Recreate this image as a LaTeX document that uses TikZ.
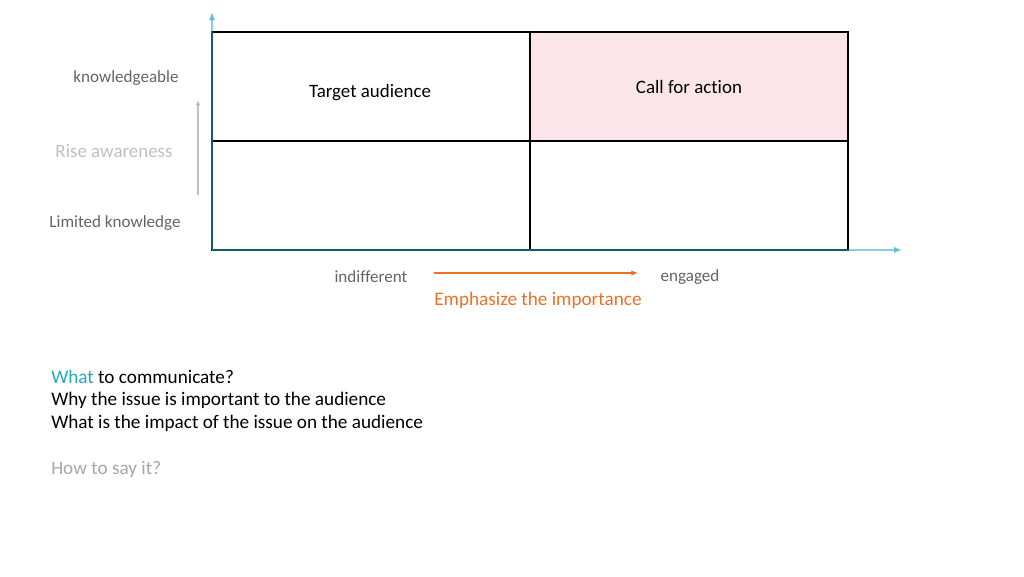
\documentclass[tikz,border=0pt]{standalone}
\usepackage{fontspec}
\setmainfont{Carlito}[Ligatures=NoCommon]
\usetikzlibrary{arrows.meta,positioning,calc}
\definecolor{AX-TEAL}{RGB}{36,168,196}
\definecolor{EMPH-ORANGE}{RGB}{237,112,36}
\definecolor{CELL-PINK}{RGB}{251,229,235}
\definecolor{TXT-GRAY}{RGB}{100,100,100}
\definecolor{TXT-LIGHT}{RGB}{191,191,191}
\definecolor{TXT-MID}{RGB}{166,166,166}

\begin{document}
\begin{tikzpicture}[x=0.75pt,y=-0.75pt,
  cell/.style={draw=black, line width=1.1pt, minimum width=238.5pt, minimum height=81.75pt,
    inner sep=0pt, outer sep=0pt, anchor=north west},
  axislabel/.style={font=\fontsize{12.8}{15}\selectfont, text=TXT-GRAY},
  celltext/.style={font=\fontsize{14.2}{17}\selectfont, text=black},
  bodytext/.style={font=\fontsize{14.4}{17}\selectfont, anchor=west, inner sep=0pt}]
  \useasboundingbox (0,0) rectangle (1024,576);

  % The four quadrants
  \node[cell] (tl) at (212,32) {};
  \node[cell, fill=CELL-PINK] (tr) at (530,32) {};
  \node[cell] (bl) at (212,141) {};
  \node[cell] (br) at (530,141) {};
  \node[celltext] (target) at (370,93) {Target audience};
  \node[celltext] (action) at (689,87) {Call for action};

  % Axes
  \coordinate (origin) at (212,250);
  \coordinate (ytip) at (212,12);
  \coordinate (xtip) at (902,250);
  \draw[AX-TEAL, opacity=0.55, line width=1pt, -{Latex[length=6pt,width=5pt]}] (origin) -- (ytip);
  \draw[AX-TEAL, opacity=0.55, line width=1pt, -{Latex[length=6pt,width=5pt]}] (origin) -- (xtip);

  % Vertical scale
  \node[axislabel] (know) at (126,78) {knowledgeable};
  \node[font=\fontsize{14.2}{17}\selectfont, text=TXT-LIGHT] (rise) at (114,151) {Rise awareness};
  \node[axislabel] (limited) at (115,223) {Limited knowledge};
  \coordinate (vlow) at (198,195);
  \coordinate (vhigh) at (198,100);
  \draw[TXT-LIGHT, line width=0.8pt, -{Latex[length=4pt,width=3.5pt]}] (vlow) -- (vhigh);

  % Horizontal scale
  \node[axislabel] (indiff) at (371,277) {indifferent};
  \node[axislabel] (engaged) at (690,277) {engaged};
  \coordinate (hlow) at (434,273);
  \coordinate (hhigh) at (638,273);
  \draw[EMPH-ORANGE, line width=0.8pt, -{Latex[length=5pt,width=4pt]}] (hlow) -- (hhigh);
  \node[font=\fontsize{14.4}{17}\selectfont, text=EMPH-ORANGE] (emph) at (538,300) {Emphasize the importance};

  % Notes
  \node[bodytext] (what) at (51,377) {\textcolor{AX-TEAL}{What} to communicate?};
  \node[bodytext] (why) at (51,400) {Why the issue is important to the audience};
  \node[bodytext] (impact) at (51,423) {What is the impact of the issue on the audience};
  \node[bodytext, text=TXT-MID] (how) at (51,469) {How to say it?};
\end{tikzpicture}
\end{document}
